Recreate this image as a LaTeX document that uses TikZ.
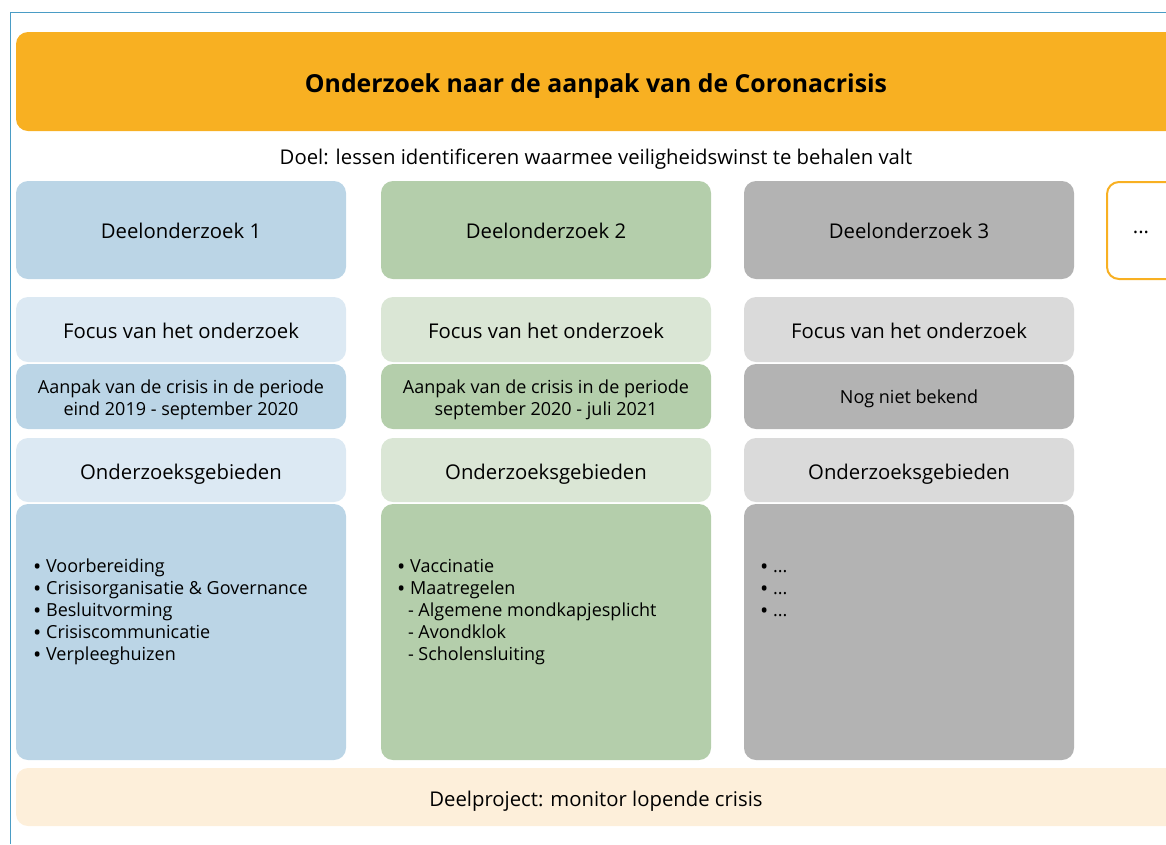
\documentclass[tikz,border=0pt]{standalone}
\usepackage{fontspec}
\setmainfont{Open Sans}
\definecolor{frameblue}{HTML}{4A9CC5}
\definecolor{orangec}{HTML}{F8B022}
\definecolor{bluec}{HTML}{BBD5E6}
\definecolor{greenc}{HTML}{B4CEAB}
\definecolor{grayc}{HTML}{B3B3B3}
\definecolor{lbluec}{HTML}{DCE9F3}
\definecolor{lgreenc}{HTML}{DAE6D5}
\definecolor{lgrayc}{HTML}{DADADA}
\definecolor{creamc}{HTML}{FDEFDA}
\newcommand{\bul}{\raisebox{-2pt}[0pt][0pt]{\fontsize{22}{22}\selectfont•}}
\begin{document}
\begin{tikzpicture}[x=1pt,y=-1pt,
  box/.style={rounded corners=12pt},
  lbl/.style={font=\fontsize{20.3}{24}\selectfont, text=black},
  lst/.style={font=\fontsize{18}{22}\selectfont, anchor=north west, align=left, inner sep=0pt}]
\useasboundingbox (0,0) rectangle (1166,844);
\clip (0,0) rectangle (1166,844);
% frame
\draw[frameblue, line width=1pt] (10.5,844) -- (10.5,12.5) -- (1170,12.5);
% title
\fill[orangec, box] (16,32) rectangle (1200,131);
\node[font=\fontsize{24.8}{28}\selectfont\bfseries] (title) at (596,86) {Onderzoek naar de aanpak van de Coronacrisis};
\node[lbl] (doel) at (596,159) {Doel: lessen identificeren waarmee veiligheidswinst te behalen valt};
% row 1
\foreach \x/\c/\n in {16/bluec/1, 381/greenc/2, 744/grayc/3}{
  \fill[\c, box] (\x,181) rectangle ++(330,98);
  \node[lbl] (d\n) at (\x+165,231) {Deelonderzoek \n};
}
\draw[orangec, line width=2pt, fill=white, box] (1107,182) rectangle (1200,279);
\node[lbl] (dots) at (1141,232) {...};
% focus
\foreach \x/\c/\n in {16/lbluec/1, 381/lgreenc/2, 744/lgrayc/3}{
  \fill[\c, box] (\x,297) rectangle ++(330,65);
  \node[lbl] (f\n) at (\x+165,331) {Focus van het onderzoek};
  \fill[\c, box] (\x,438) rectangle ++(330,64);
  \node[lbl] (o\n) at (\x+165,474) {Onderzoeksgebieden};
}
\foreach \x/\c/\n in {16/bluec/1, 381/greenc/2, 744/grayc/3}{
  \fill[\c, box] (\x,364) rectangle ++(330,65);
  \fill[\c, box] (\x,504) rectangle ++(330,256);
}
\node[lst, align=center, anchor=center] (a1) at (181,400) {Aanpak van de crisis in de periode\\eind 2019 - september 2020};
\node[lst, align=center, anchor=center] (a2) at (546,400) {Aanpak van de crisis in de periode\\september 2020 - juli 2021};
\node[lst, align=center, anchor=center] (a3) at (909,399) {Nog niet bekend};
% lists
\node[lst] (l1) at (33,559) {\bul\ Voorbereiding\\\bul\ Crisisorganisatie \& Governance\\\bul\ Besluitvorming\\\bul\ Crisiscommunicatie\\\bul\ Verpleeghuizen};
\node[lst] (l2) at (397,559) {\bul\ Vaccinatie\\\bul\ Maatregelen\\\hspace*{0.6em}- Algemene mondkapjesplicht\\\hspace*{0.6em}- Avondklok\\\hspace*{0.6em}- Scholensluiting};
\node[lst] (l3) at (760,559) {\vphantom{V}\bul\ ...\\\bul\ ...\\\bul\ ...};
% bottom
\fill[creamc, box] (16,768) rectangle (1200,826);
\node[lbl] (mon) at (596,801) {Deelproject: monitor lopende crisis};
\end{tikzpicture}
\end{document}
